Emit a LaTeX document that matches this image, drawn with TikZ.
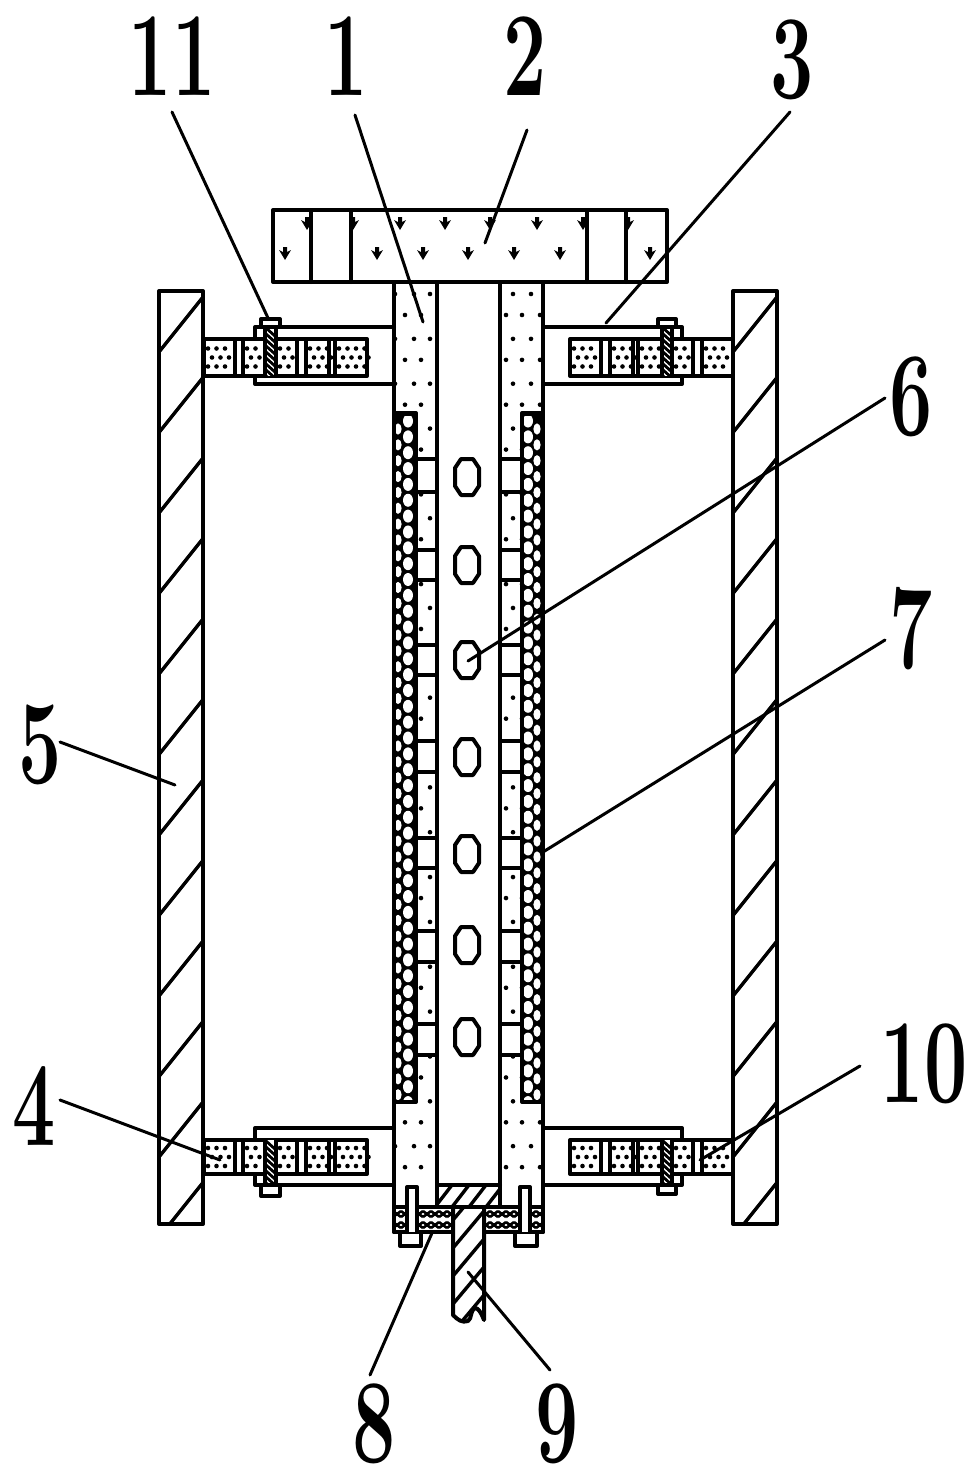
\documentclass[tikz,border=0pt]{standalone}
\tikzset{
  part/.style={draw=black,line width=2pt,line join=round,line cap=round},
  lead/.style={draw=black,line width=1.5pt,line cap=round},
  hatch/.style={draw=black,line width=1.7pt},
  lbl/.style={font=\fontsize{60}{60}\selectfont\bfseries,inner sep=0pt,text=black}
}
\newcommand{\digits}[1]{\scalebox{.64}[1]{#1}}
\newcommand{\rodcell}[3]{% x1, x2, ycentre
  \pgfmathsetmacro{\xs}{#1+4}\pgfmathsetmacro{\xn}{#1+12.5}\pgfmathsetmacro{\xe}{#2-2}
  \foreach \rr/\off in {-9/0,0/4,9/0}{
    \foreach \xx in {\xs,\xn,...,\xe}{
      \fill ({\xx+\off},{#3+\rr}) circle (2.3);
    }
  }
}
\newcommand{\spade}[2]{%
  \fill (#1,#2+7) -- (#1-6,#2-3) -- (#1-2,#2-1) -- (#1-2,#2-6) -- (#1+2,#2-6) -- (#1+2,#2-1) -- (#1+6,#2-3) -- cycle;
}
\newcommand{\plate}[2]{% x1,x2
  \begin{scope}
    \clip (#1,291) rectangle (#2,1225);
    \foreach \k in {0,...,12}{
      \draw[hatch] (#1,{352+80.5*\k}) -- ++(44,-55);
    }
  \end{scope}
  \draw[part] (#1,291) rectangle (#2,1224);
}
\newcommand{\octo}[2]{%
  \draw[part] (#1-6,#2-18) -- (#1+6,#2-18) -- (#1+12,#2-9) -- (#1+12,#2+9) -- (#1+6,#2+18) -- (#1-6,#2+18) -- (#1-12,#2+9) -- (#1-12,#2-9) -- cycle;
}
\begin{document}
\begin{tikzpicture}[x=0.5pt,y=-0.5pt]
\useasboundingbox (0,0) rectangle (976,1478);
\fill[white] (0,0) rectangle (976,1478);

% plates
\plate{159}{203}
\plate{733}{777}

% brackets
\foreach \ya/\yb in {327/384,1128/1185}{
  \draw[part] (394,\ya) -- (255,\ya) -- (255,\yb) -- (394,\yb);
  \draw[part] (543,\ya) -- (682,\ya) -- (682,\yb) -- (543,\yb);
}

% rods, upper and lower
\foreach \ya/\yb in {339/376,1140/1174}{
  \fill[white] (204,\ya) rectangle (367,\yb);
  \fill[white] (570,\ya) rectangle (733,\yb);
  \pgfmathsetmacro{\yc}{(\ya+\yb)/2}
  \rodcell{204}{235}{\yc}\rodcell{243}{265}{\yc}\rodcell{276}{297}{\yc}\rodcell{306}{329}{\yc}\rodcell{335}{367}{\yc}
  \rodcell{570}{601}{\yc}\rodcell{610}{633}{\yc}\rodcell{638}{662}{\yc}\rodcell{672}{693}{\yc}\rodcell{702}{733}{\yc}
  \draw[part] (204,\ya) rectangle (367,\yb);
  \draw[part] (570,\ya) rectangle (733,\yb);
  \foreach \xa/\xb in {235/243,297/306,329/335,601/610,633/638,693/702}{
    \draw[part,line width=1.7pt] (\xa,\ya) -- (\xa,\yb) (\xb,\ya) -- (\xb,\yb);
  }
}
% bolts
\foreach \xa/\xb/\ya/\yb/\ha/\hb in {265/276/327/376/319/327,662/672/327/376/319/327,265/276/1140/1185/1185/1196,662/672/1140/1185/1185/1194}{
  \fill[white] (\xa,\ya) rectangle (\xb,\yb);
  \begin{scope}
    \clip (\xa,\ya) rectangle (\xb,\yb);
    \foreach \k in {0,...,9}{\draw[line width=1.4pt] (\xa,{\ya+6*\k}) -- ++(11,10);}
  \end{scope}
  \draw[part] (\xa,\ya) -- (\xa,\yb) (\xb,\ya) -- (\xb,\yb);
  \pgfmathsetmacro{\hl}{\xa-4}\pgfmathsetmacro{\hr}{\xb+4}
  \draw[part,fill=white] (\hl,\ha) rectangle (\hr,\hb);
}

% top bar
\foreach \xx in {307,353,400,445,490,537,583,628}{\spade{\xx}{223}}
\foreach \xx in {285,377,423,468,514,560,605,650}{\spade{\xx}{253}}
\fill[white] (311,210) rectangle (351,282);
\fill[white] (587,210) rectangle (626,282);
\draw[part] (273,210) rectangle (667,282);
\draw[part] (311,210) -- (311,282) (351,210) -- (351,282) (587,210) -- (587,282) (626,210) -- (626,282);

% column dots
\foreach \k in {0,...,19}{
  \pgfmathsetmacro{\yA}{294+44.85*\k}
  \pgfmathsetmacro{\yB}{315+44.85*\k}
  \foreach \xx in {395,414,430,513,531}{\fill (\xx,\yA) circle (2.3);}
  \foreach \xx in {405,421,506,522,540}{\fill (\xx,\yB) circle (2.3);}
}

% perforated strips and teeth
\foreach \ya/\yb in {459/492,550/580,645/675,741/772,838/868,931/962,1024/1055}{
  \draw[part,fill=white] (416,\ya) rectangle (437,\yb);
  \draw[part,fill=white] (500,\ya) rectangle (522,\yb);
}
\foreach \xa/\xb/\xbig/\xsmall in {394/416/408/398,522/543/528/537}{
  \fill (\xa,413) rectangle (\xb,1102);
  \begin{scope}
    \clip ({\xa+2},416) rectangle ({\xb-2},1099);
    \foreach \k in {0,...,43}{
      \fill[white] (\xbig,{421+15.85*\k}) ellipse (5 and 6.5);
      \fill[white] (\xsmall,{429+15.85*\k}) ellipse (3.6 and 5.6);
    }
  \end{scope}
  \draw[part] (\xa,413) rectangle (\xb,1102);
}

% columns
\draw[part] (394,282) -- (394,1232) (437,282) -- (437,1207);
\draw[part] (500,282) -- (500,1207) (543,282) -- (543,1232);

% holes
\foreach \yy in {477,565,660,757,854,945,1037}{\octo{467}{\yy}}

% bottom block
\begin{scope}
  \clip (437,1185) rectangle (500,1207);
  \foreach \k in {0,...,4}{\draw[hatch] ({437+17*\k-2},1207) -- ++(17,-22);}
\end{scope}
\draw[part] (437,1185) -- (500,1185);

% feet
\foreach \fa/\fb in {400/421,515/537}{
  \draw[part,fill=white] (\fa,1232) rectangle (\fb,1246);
}
% base plate
\draw[part,fill=white] (394,1207) rectangle (543,1232);
\foreach \xa/\xn/\xb in {397/405/404,419/427/451,486/494/518,532/540/540}{
  \foreach \yy in {1214,1225}{
    \foreach \xx in {\xa,\xn,...,\xb}{
      \draw[line width=1.3pt] ({\xx-4},{\yy-3}) -- ({\xx+4},{\yy+3}) ({\xx+4},{\yy-3}) -- ({\xx-4},{\yy+3});
    }
  }
}
\foreach \pa/\pb in {407/417,520/530}{
  \fill[white] (\pa,1187) rectangle (\pb,1232);
  \draw[part] (\pa,1232) -- (\pa,1187) -- (\pb,1187) -- (\pb,1232);
}

% shaft
\fill[white] (453,1207) rectangle (484,1315);
\begin{scope}
  \clip (453,1207) -- (484,1207) -- (484,1320) -- (480,1312) -- (473,1308) -- (470,1318) -- (462,1322) -- (453,1315) -- cycle;
  \foreach \k in {0,...,5}{\draw[hatch] (453,{1220+28*\k}) -- ++(31,-37);}
\end{scope}
\draw[part] (453,1207) -- (453,1315) .. controls (458,1320) and (462,1323) .. (468,1321) .. controls (472,1319) and (470,1310) .. (475,1308) .. controls (478,1308) and (481,1312) .. (484,1320) -- (484,1207);
\draw[part] (453,1207) -- (484,1207);

% labels
\node[lbl] (n11) at (172,56) {\digits{11}};
\node[lbl] (n1) at (346,56) {\digits{1}};
\node[lbl] (n2) at (525,56) {\digits{2}};
\node[lbl] (n3) at (792,60) {\digits{3}};
\node[lbl] (n6) at (911,397) {\digits{6}};
\node[lbl] (n7) at (911,629) {\digits{7}};
\node[lbl] (n5) at (40,745) {\digits{5}};
\node[lbl] (n4) at (34,1106) {\digits{4}};
\node[lbl] (n10) at (924,1064) {\digits{10}};
\node[lbl] (n8) at (374,1424) {\digits{8}};
\node[lbl] (n9) at (557,1424) {\digits{9}};

% leaders
\coordinate (t11) at (268,318);
\coordinate (t1) at (423,322);
\coordinate (t2) at (485,243);
\coordinate (t3) at (606,323);
\coordinate (t6) at (468,661);
\coordinate (t7) at (543,852);
\coordinate (t5) at (175,785);
\coordinate (t4) at (220,1160);
\coordinate (t10) at (700,1160);
\coordinate (t8) at (432,1233);
\coordinate (t9) at (468,1272);
\coordinate (s11) at (172,112);
\coordinate (s1) at (355,115);
\coordinate (s2) at (527,130);
\coordinate (s3) at (790,112);
\coordinate (s6) at (885,398);
\coordinate (s7) at (885,640);
\coordinate (s5) at (60,742);
\coordinate (s4) at (60,1100);
\coordinate (s10) at (860,1066);
\coordinate (s8) at (370,1375);
\coordinate (s9) at (550,1370);
\foreach \i in {11,1,2,3,6,7,5,4,10,8,9}{\draw[lead] (s\i) -- (t\i);}
\end{tikzpicture}
\end{document}
